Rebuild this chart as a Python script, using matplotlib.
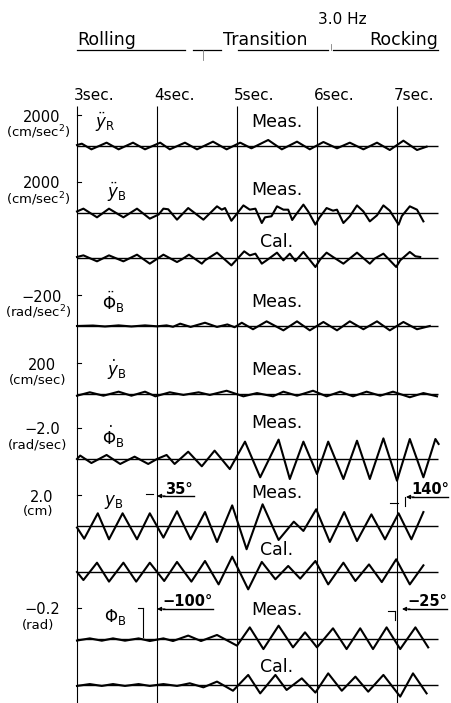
import numpy as np
import matplotlib.pyplot as plt

plt.rcParams['font.family'] = ['DejaVu Sans']
plt.rcParams['mathtext.fontset'] = 'dejavusans'

# time axis marks (sec)
sec_ticks = [3, 4, 5, 6, 7]
sec_labels = ["3sec.", "4sec.", "5sec.", "6sec.", "7sec."]

# traces: (time [sec], value [physical unit])
ddy_R = [(3.00, 60), (3.06, 150), (3.18, -215), (3.37, 215), (3.52, -215), (3.70, 215),
         (3.85, -215), (4.04, 215), (4.16, -215), (4.35, 215), (4.50, -215), (4.70, 280),
         (4.87, -215), (5.04, 215), (5.18, -150), (5.39, 387), (5.56, -215), (5.75, 280),
         (5.91, -215), (6.08, 258), (6.25, -150), (6.41, 215), (6.58, -215), (6.75, 215),
         (6.91, -258), (7.08, 344), (7.25, -258), (7.37, -43)]

ddy_B_meas = [(3.00, 100), (3.08, 280), (3.25, -280), (3.40, 280), (3.58, -280), (3.75, 280),
              (3.91, -365), (4.02, -100), (4.08, 280), (4.14, 240), (4.25, -430), (4.39, 320),
              (4.58, -430), (4.75, 430), (4.81, 215), (4.85, 320), (4.93, -500),
              (5.08, 490), (5.16, 215), (5.23, 280), (5.31, -645), (5.35, -280), (5.43, -215),
              (5.50, 430), (5.58, 215), (5.64, 215), (5.69, -450), (5.73, -150),
              (5.83, 540), (5.89, 100), (5.98, -750), (6.03, -300),
              (6.12, 320), (6.20, 150), (6.25, 215), (6.33, -645), (6.41, -215),
              (6.50, 490), (6.58, 100), (6.66, -540), (6.75, -150),
              (6.83, 490), (6.91, 150), (7.02, -750), (7.06, -200),
              (7.16, 430), (7.25, 215), (7.33, -540)]

ddy_B_cal = [(3.00, 65), (3.08, 170), (3.25, -215), (3.40, 170), (3.58, -215), (3.75, 215),
             (3.91, -365), (4.08, 215), (4.25, -260), (4.31, -90), (4.40, 215), (4.56, -365),
             (4.60, -150), (4.75, 345), (4.93, -475), (5.09, 430), (5.16, 170), (5.23, 280),
             (5.31, -365), (5.37, -150), (5.50, 345), (5.58, -150), (5.66, 280), (5.73, -200),
             (5.83, 390), (5.98, -580), (6.04, -90), (6.12, 345), (6.20, 65), (6.33, -365),
             (6.50, 345), (6.66, -365), (6.72, -40), (6.83, 280), (6.99, -580), (7.04, -150),
             (7.16, 390), (7.23, 110), (7.29, 65)]

ddphi_B = [(3.00, 0), (3.20, -3), (3.35, 3), (3.52, -4), (3.68, 3), (3.85, -4), (4.00, 2),
           (4.12, -4), (4.20, 5), (4.29, -15), (4.42, 6), (4.60, -21), (4.75, 6), (4.88, -10),
           (4.97, 8), (5.06, -21), (5.20, 21), (5.37, -30), (5.58, 28), (5.75, -30), (5.91, 28),
           (6.08, -26), (6.25, 28), (6.41, -30), (6.58, 21), (6.75, -30), (6.91, 28),
           (7.08, -26), (7.25, 21), (7.41, 0)]

dy_B = [(3.00, -11), (3.16, 11), (3.33, -11), (3.52, 15), (3.68, -11), (3.85, 15), (3.98, -15),
        (4.16, 11), (4.33, -6), (4.52, 11), (4.66, -6), (4.87, 21), (5.08, -15), (5.25, 6),
        (5.45, -15), (5.58, 15), (5.75, -11), (5.95, 21), (6.12, -15), (6.29, 15), (6.45, -15),
        (6.62, 15), (6.79, -11), (6.95, 15), (7.16, -21), (7.33, 6), (7.50, -15)]

dphi_B = [(3.00, 0.0), (3.04, -0.22), (3.18, 0.26), (3.37, -0.26), (3.54, 0.32), (3.72, -0.15),
          (3.89, 0.32), (4.00, 0.0), (4.12, -0.26), (4.22, 0.32), (4.39, -0.47), (4.56, 0.47),
          (4.72, -0.54), (4.91, 0.65), (5.10, -1.12), (5.29, 1.18), (5.52, -1.25), (5.66, 1.29),
          (5.83, -1.12), (6.00, 0.97), (6.14, -1.12), (6.33, 1.29), (6.50, -1.18), (6.66, 1.29),
          (6.83, -1.33), (7.00, 1.40), (7.16, -1.29), (7.33, 1.18), (7.48, -1.29), (7.52, -0.97)]

y_B_meas = [(3.00, -0.10), (3.09, -0.82), (3.26, 0.82), (3.40, -0.86), (3.57, 0.82), (3.75, -0.86),
            (3.91, 0.82), (4.08, -0.75), (4.25, 0.95), (4.42, -0.86), (4.60, 0.90), (4.75, -1.03),
            (4.94, 1.33), (5.12, -1.50), (5.32, 1.40), (5.52, -0.90), (5.71, 0.28), (5.83, -0.32),
            (5.99, 1.08), (6.16, -1.03), (6.34, 0.90), (6.50, -0.97), (6.68, 0.75), (6.85, -0.86),
            (7.02, 0.82), (7.18, -0.86), (7.33, 0.90)]

y_B_cal = [(3.00, 0.0), (3.08, -0.52), (3.25, 0.60), (3.40, -0.62), (3.58, 0.60), (3.74, -0.62),
           (3.91, 0.60), (4.09, -0.58), (4.25, 0.65), (4.43, -0.62), (4.60, 0.71), (4.77, -0.80),
           (4.94, 0.99), (5.14, -1.12), (5.31, 0.65), (5.48, -0.47), (5.64, 0.39), (5.79, -0.43),
           (5.98, 0.71), (6.14, -0.80), (6.33, 0.60), (6.48, -0.58), (6.65, 0.49), (6.81, -0.65),
           (6.99, 0.82), (7.16, -0.80), (7.33, 0.43)]

phi_B_meas = [(3.00, 0.010), (3.16, -0.004), (3.31, 0.011), (3.45, -0.004), (3.60, 0.011),
              (3.77, -0.004), (3.91, 0.013), (4.08, -0.004), (4.20, 0.013), (4.39, -0.022),
              (4.55, 0.013), (4.75, -0.026), (5.00, 0.043), (5.16, -0.075), (5.33, 0.065),
              (5.52, -0.086), (5.70, 0.054), (5.85, -0.043), (6.00, 0.054), (6.20, -0.069),
              (6.37, 0.065), (6.54, -0.069), (6.70, 0.065), (6.87, -0.075), (7.04, 0.065),
              (7.23, -0.075), (7.39, 0.054)]

phi_B_cal = [(3.00, 0.006), (3.16, -0.006), (3.31, 0.006), (3.45, -0.006), (3.60, 0.006),
             (3.77, -0.006), (3.91, 0.006), (4.08, -0.006), (4.25, 0.006), (4.41, -0.011),
             (4.58, 0.015), (4.75, -0.022), (4.95, 0.037), (5.14, -0.065), (5.29, 0.054),
             (5.48, -0.065), (5.62, 0.032), (5.81, -0.043), (5.98, 0.049), (6.14, -0.075),
             (6.31, 0.037), (6.48, -0.054), (6.64, 0.043), (6.83, -0.065), (7.04, 0.075),
             (7.20, -0.075), (7.37, 0.054)]

# scale value shown at the upward tick of each channel
scale_vals = ["2000", "2000", "\u2212200", "200", "\u22122.0", "2.0", "\u22120.2"]
scale_units = ["(cm/sec$^2$)", "(cm/sec$^2$)", "(rad/sec$^2$)", "(cm/sec)", "(rad/sec)", "(cm)", "(rad)"]
channel_names = [r"$\ddot{y}_{\rm R}$", r"$\ddot{y}_{\rm B}$", r"$\ddot{\Phi}_{\rm B}$",
                 r"$\dot{y}_{\rm B}$", r"$\dot{\Phi}_{\rm B}$", r"$y_{\rm B}$", r"$\Phi_{\rm B}$"]

# ---- layout (pixels of the 452x703 sheet) ----
W, H = 452, 703
PX_TICK = 31.0          # height of one scale step
T0_PX, PX_SEC = 77.0, 80.0

traces = [  # data, scale, baseline y, label
    (ddy_R, 2000, 146, "Meas."),
    (ddy_B_meas, 2000, 213, "Meas."),
    (ddy_B_cal, 2000, 258, "Cal."),
    (ddphi_B, -200, 326, "Meas."),
    (dy_B, 200, 394, "Meas."),
    (dphi_B, -2.0, 459, "Meas."),
    (y_B_meas, 2.0, 526, "Meas."),
    (y_B_cal, 2.0, 572, "Cal."),
    (phi_B_meas, -0.2, 639, "Meas."),
    (phi_B_cal, -0.2, 685, "Cal."),
]
label_y = [122, 190, 242, 302, 370, 423, 493, 550, 610, 667]
channel_base = [146, 213, 326, 394, 459, 526, 639]
name_y = [122, 192, 302, 370, 437, 502, 617]
name_x = [105, 117, 113, 117, 113, 114, 115]

fig = plt.figure(figsize=(W / 100, H / 100), dpi=100)
lay = fig.add_axes([0, 0, 1, 1])
lay.set_xlim(0, W)
lay.set_ylim(H, 0)
lay.axis('off')

ax = fig.add_axes([0, 0, 1, 1])
ax.set_xlim(3 - T0_PX / PX_SEC, 3 + (W - T0_PX) / PX_SEC)
ax.set_ylim(H, 0)
ax.axis('off')

# time grid
ax.vlines(sec_ticks, 106, H, color='black', lw=0.8)
for s, lab in zip(sec_ticks, sec_labels):
    ax.text(s - 0.04, 96, lab, ha='left', va='center', fontsize=11)

# traces
for data, sc, base, lab in traces:
    t = np.array([p[0] for p in data])
    v = np.array([p[1] for p in data])
    ax.hlines(base, 3.0, 7.51, color='black', lw=1.0)
    ax.plot(t, base - v / sc * PX_TICK, color='black', lw=1.5, solid_joinstyle='round')

for y, lab in zip(label_y, [tr[3] for tr in traces]):
    lay.text(277, y, lab, ha='center', va='center', fontsize=12.5)

# channel scales and names
for base, val, unit, name, ny, nx in zip(channel_base, scale_vals, scale_units,
                                         channel_names, name_y, name_x):
    ty = base - PX_TICK
    lay.plot([77, 81], [ty, ty], color='black', lw=0.8)
    lay.text(42, ty + 2, val, ha='center', va='center', fontsize=10.5)
    lay.text(38, ty + 17, unit, ha='center', va='center', fontsize=9.5)
    lay.text(nx, ny, name, ha='center', va='center', fontsize=12)

# header
lay.text(342, 19, "3.0 Hz", ha='center', va='center', fontsize=11)
lay.text(77, 40, "Rolling", ha='left', va='center', fontsize=12.5)
lay.text(265, 40, "Transition", ha='center', va='center', fontsize=12.5)
lay.text(438, 40, "Rocking", ha='right', va='center', fontsize=12.5)
for x0, x1 in [(77, 185), (193, 221), (238, 328), (333, 438)]:
    lay.plot([x0, x1], [50, 50], color='black', lw=0.9)
lay.plot([203, 203], [50, 60], color='0.5', lw=0.6)
lay.plot([331, 331], [44, 50], color='0.5', lw=0.6)

# phase marks
def phase_mark(x0, x1, y, text):
    lay.annotate("", xy=(x0, y), xytext=(x0 + 8, y),
                 arrowprops=dict(arrowstyle='-|>', color='black', lw=0.8,
                                 mutation_scale=6, shrinkA=0, shrinkB=0))
    lay.plot([x0 + 6, x1], [y, y], color='black', lw=1.0)
    lay.text((x0 + x1) / 2 + 3, y - 7, text, ha='center', va='center',
             fontsize=10.5, fontweight='bold')

phase_mark(157, 194, 496, "35°")
lay.plot([146, 153], [494, 494], color='black', lw=0.8)
phase_mark(406, 448, 497, "140°")
lay.plot([390, 398], [503, 503], color='black', lw=0.8)
lay.plot([405, 405], [497, 506], color='black', lw=0.8)

phase_mark(157, 213, 609, "\u2212100°")
lay.plot([143, 143], [608, 637], color='black', lw=0.8)
lay.plot([138, 143], [608, 608], color='black', lw=0.8)
phase_mark(402, 447, 609, "\u221225°")
lay.plot([388, 395], [611, 611], color='black', lw=0.8)
lay.plot([395, 395], [611, 620], color='black', lw=0.8)

fig.savefig("out.png", dpi=100)
